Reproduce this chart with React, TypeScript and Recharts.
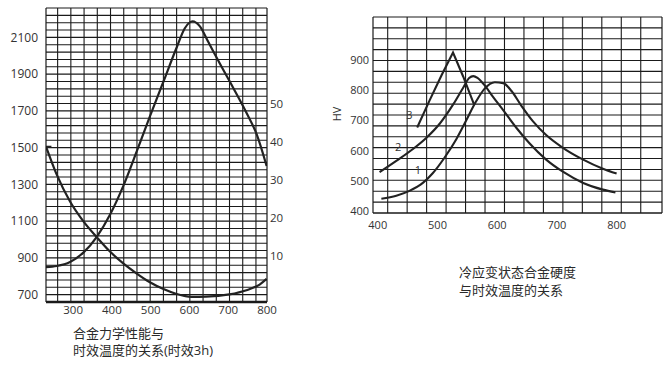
import { LineChart, Line, XAxis, YAxis, ReferenceLine, ReferenceDot } from "recharts";

// 左图：温度 -> 强度(左轴) / 延伸率(右轴)
const strengthCurve = [
  { t: 230, v: 850 }, { t: 258, v: 856 }, { t: 292, v: 878 }, { t: 327, v: 930 },
  { t: 361, v: 1015 }, { t: 395, v: 1135 }, { t: 430, v: 1295 }, { t: 464, v: 1480 },
  { t: 498, v: 1670 }, { t: 533, v: 1860 }, { t: 567, v: 2045 }, { t: 588, v: 2150 },
  { t: 608, v: 2188 }, { t: 627, v: 2160 }, { t: 648, v: 2078 }, { t: 679, v: 1955 },
  { t: 713, v: 1825 }, { t: 747, v: 1690 }, { t: 773, v: 1575 }, { t: 799, v: 1400 },
];
const elongCurve = [
  { t: 230, v: 38.8 }, { t: 258, v: 31.3 }, { t: 292, v: 24.3 }, { t: 327, v: 19.0 },
  { t: 361, v: 14.9 }, { t: 395, v: 11.1 }, { t: 430, v: 7.9 }, { t: 464, v: 5.3 },
  { t: 498, v: 3.0 }, { t: 533, v: 1.2 }, { t: 567, v: -0.1 }, { t: 605, v: -0.85 },
  { t: 643, v: -0.8 }, { t: 703, v: -0.2 }, { t: 747, v: 0.9 }, { t: 781, v: 2.4 },
  { t: 799, v: 3.9 },
];
const leftXTicks = [300, 400, 500, 600, 700, 800];
const leftYTicks = [700, 900, 1100, 1300, 1500, 1700, 1900, 2100];
const rightYTicks = [10, 20, 30, 40, 50];

// 右图：硬度 HV
const hv1 = [
  { t: 406, v: 442 }, { t: 431, v: 452 }, { t: 453, v: 468 }, { t: 476, v: 495 },
  { t: 492, v: 526 }, { t: 512, v: 578 }, { t: 532, v: 640 }, { t: 548, v: 700 },
  { t: 565, v: 764 }, { t: 579, v: 805 }, { t: 596, v: 826 }, { t: 610, v: 823 },
  { t: 624, v: 797 }, { t: 640, v: 750 }, { t: 660, v: 697 }, { t: 682, v: 652 },
  { t: 710, v: 610 }, { t: 744, v: 571 }, { t: 777, v: 541 }, { t: 800, v: 525 },
];
const hv2 = [
  { t: 403, v: 530 }, { t: 431, v: 567 }, { t: 459, v: 606 }, { t: 482, v: 644 },
  { t: 504, v: 690 }, { t: 526, v: 752 }, { t: 543, v: 808 }, { t: 553, v: 840 },
  { t: 560, v: 846 }, { t: 567, v: 840 }, { t: 578, v: 818 }, { t: 593, v: 778 },
  { t: 610, v: 734 }, { t: 632, v: 676 }, { t: 654, v: 625 }, { t: 682, v: 571 },
  { t: 710, v: 531 }, { t: 744, v: 494 }, { t: 777, v: 472 }, { t: 798, v: 463 },
];
const hv3 = [
  { t: 466, v: 677 }, { t: 487, v: 767 }, { t: 507, v: 850 }, { t: 526, v: 924 },
  { t: 543, v: 845 }, { t: 561, v: 754 },
];
const hvXTicks = [400, 500, 600, 700, 800];
const hvYTicks = [400, 500, 600, 700, 800, 900];
const hvCurveLabels = [
  { name: "3", t: 453, v: 718 },
  { name: "2", t: 434, v: 613 },
  { name: "1", t: 467, v: 536 },
];

// 网格线
const leftVGrid = Array.from({ length: 16 }, (_, i) => 260 + i * 34.1);
const leftHGrid = Array.from({ length: 39 }, (_, i) => 700 + i * 40);
const hvVGrid = Array.from({ length: 14 }, (_, i) => 416.6 + i * 32.6);
const hvHGrid = Array.from({ length: 17 }, (_, i) => 395 + (i + 1) * 35.9);

const font = "'Open Sans', 'Noto Sans CJK SC', sans-serif";
const ink = "#1a1a1a";
const tickText = { fill: "#333", fontSize: 12, fontFamily: font };

export default function App() {
  return (
    <div style={{ position: "absolute", left: 0, top: 0, width: 670, height: 365, background: "#fff", fontFamily: font }}>
      <div style={{ position: "absolute", left: 0, top: 0 }}>
        <LineChart width={300} height={330} margin={{ top: 8, right: 3, bottom: 8, left: 8 }}>
          <XAxis
            type="number"
            dataKey="t"
            domain={[230, 800]}
            ticks={leftXTicks}
            allowDataOverflow
            tickLine={false}
            tickSize={0}
            tickMargin={4}
            height={20}
            axisLine={{ stroke: ink, strokeWidth: 2.6 }}
            tick={{ ...tickText, fontSize: 11.5 }}
          />
          <YAxis
            yAxisId="l"
            type="number"
            domain={[660, 2260]}
            ticks={leftYTicks}
            allowDataOverflow
            width={38}
            tickLine={false}
            tickSize={0}
            tickMargin={8}
            axisLine={{ stroke: ink, strokeWidth: 1.2 }}
            tick={tickText}
          />
          <YAxis
            yAxisId="r"
            orientation="right"
            type="number"
            domain={[-2.2, 75.3]}
            ticks={rightYTicks}
            allowDataOverflow
            width={30}
            tickLine={false}
            tickSize={0}
            tickMargin={3}
            axisLine={{ stroke: ink, strokeWidth: 1.2 }}
            tick={{ ...tickText, fontSize: 11.5, textAnchor: "start" }}
          />
          {leftVGrid.map((x) => (
            <ReferenceLine key={`lv${x}`} x={x} yAxisId="l" stroke={ink} strokeWidth={1.1} />
          ))}
          {leftHGrid.map((y) => (
            <ReferenceLine key={`lh${y}`} y={y} yAxisId="l" stroke={ink} strokeWidth={1.1} />
          ))}
          <ReferenceLine y={2260} yAxisId="l" stroke={ink} strokeWidth={1.2} />
          <ReferenceLine
            yAxisId="l"
            stroke="#222"
            strokeWidth={2}
            segment={[{ x: 230, y: 1505 }, { x: 244, y: 1505 }]}
          />
          <Line
            data={strengthCurve}
            dataKey="v"
            yAxisId="l"
            type="monotone"
            stroke="#222"
            strokeWidth={2.2}
            dot={false}
            isAnimationActive={false}
          />
          <Line
            data={elongCurve}
            dataKey="v"
            yAxisId="r"
            type="monotone"
            stroke="#222"
            strokeWidth={2.2}
            dot={false}
            isAnimationActive={false}
          />
        </LineChart>
      </div>

      <div style={{ position: "absolute", left: 330, top: 0 }}>
        <LineChart width={340} height={240} margin={{ top: 17, right: 8, bottom: 7, left: 7 }}>
          <XAxis
            type="number"
            dataKey="t"
            domain={[392, 876]}
            ticks={hvXTicks}
            allowDataOverflow
            tickLine={false}
            tickSize={0}
            tickMargin={8}
            height={20}
            axisLine={{ stroke: ink, strokeWidth: 1.6 }}
            tick={{ ...tickText, fontSize: 11 }}
          />
          <YAxis
            type="number"
            domain={[395, 1041]}
            ticks={hvYTicks}
            allowDataOverflow
            width={36}
            tickLine={false}
            tickSize={0}
            tickMargin={4}
            axisLine={{ stroke: ink, strokeWidth: 1.2 }}
            tick={{ ...tickText, fontSize: 11 }}
          />
          {hvVGrid.map((x) => (
            <ReferenceLine key={`hv${x}`} x={x} stroke={ink} strokeWidth={1.1} />
          ))}
          {hvHGrid.map((y) => (
            <ReferenceLine key={`hh${y}`} y={y} stroke={ink} strokeWidth={1.1} />
          ))}
          <ReferenceLine x={876} stroke={ink} strokeWidth={1.2} />
          <ReferenceLine y={1041} stroke={ink} strokeWidth={1.2} />
          <Line data={hv1} dataKey="v" type="monotone" stroke="#222" strokeWidth={2.1} dot={false} isAnimationActive={false} />
          <Line data={hv2} dataKey="v" type="monotone" stroke="#222" strokeWidth={2.1} dot={false} isAnimationActive={false} />
          <Line data={hv3} dataKey="v" type="linear" stroke="#222" strokeWidth={2.1} dot={false} isAnimationActive={false} />
          {hvCurveLabels.map((c) => (
            <ReferenceDot
              key={c.name}
              x={c.t}
              y={c.v}
              r={0}
              fill="none"
              stroke="none"
              label={{ value: c.name, position: "center", fontSize: 11, fill: "#333", fontFamily: font }}
            />
          ))}
        </LineChart>
      </div>

      <div
        style={{
          position: "absolute",
          left: 337,
          top: 114,
          transform: "translate(-50%, -50%) rotate(-90deg)",
          fontSize: 11,
          color: "#333",
          lineHeight: "12px",
        }}
      >
        HV
      </div>

      <div style={{ position: "absolute", left: 73, top: 325, fontSize: 13, lineHeight: "17px", color: "#2a2a2a" }}>
        <div>合金力学性能与</div>
        <div>时效温度的关系(时效3h)</div>
      </div>
      <div style={{ position: "absolute", left: 459, top: 263, fontSize: 13, lineHeight: "18px", color: "#2a2a2a" }}>
        <div>冷应变状态合金硬度</div>
        <div>与时效温度的关系</div>
      </div>
    </div>
  );
}
